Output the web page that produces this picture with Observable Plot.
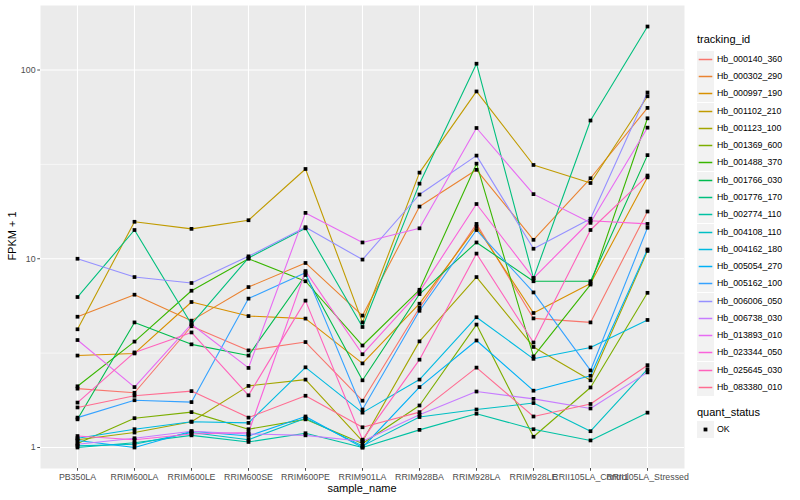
<!DOCTYPE html>
<html>
<head>
<meta charset="utf-8">
<script src="https://cdn.jsdelivr.net/npm/d3@7"></script>
<script src="https://cdn.jsdelivr.net/npm/@observablehq/plot@0.6"></script>
<style>
  body { margin: 0; background: white; font-family: "Liberation Sans", Arial, sans-serif; }
  #wrap { position: relative; width: 800px; height: 500px; }
  .t { position: absolute; white-space: nowrap; color: #000; }
  .key { position: absolute; width: 17px; height: 17px; }
  .lab { position: absolute; font-size: 8.8px; line-height: 17px; color: #000; white-space: nowrap; }
</style>
</head>
<body>
<div id="wrap"></div>
<script>
const samples = ["PB350LA","RRIM600LA","RRIM600LE","RRIM600SE","RRIM600PE","RRIM901LA","RRIM928BA","RRIM928LA","RRIM928LE","RRII105LA_Control","RRII105LA_Stressed"];

const trackingIds = ["Hb_000140_360","Hb_000302_290","Hb_000997_190","Hb_001102_210","Hb_001123_100","Hb_001369_600","Hb_001488_370","Hb_001766_030","Hb_001776_170","Hb_002774_110","Hb_004108_110","Hb_004162_180","Hb_005054_270","Hb_005162_100","Hb_006006_050","Hb_006738_030","Hb_013893_010","Hb_023344_050","Hb_025645_030","Hb_083380_010"];

const colors = ["#F8766D","#EA8331","#D89000","#C09B00","#A3A500","#7CAE00","#39B600","#00BB4E","#00BF7D","#00C1A3","#00BFC4","#00BAE0","#00B0F6","#35A2FF","#9590FF","#C77CFF","#E76BF3","#FA62DB","#FF62BC","#FF6C91"];

// FPKM + 1 per sample (same order as samples)
const hb000140_360 = [2.05, 1.95, 4.39, 3.27, 3.62, 1.77, 5.5, 15.3, 4.83, 4.6, 17.8];
const hb000302_290 = [4.93, 6.45, 4.7, 7.08, 9.5, 5.0, 18.9, 29.6, 12.6, 26.7, 63];
const hb000997_190 = [3.07, 3.15, 5.9, 4.97, 4.82, 2.79, 5.78, 14.8, 5.16, 7.4, 27];
const hb001102_210 = [4.23, 15.7, 14.4, 16.0, 29.9, 4.6, 28.6, 77, 31.4, 25.2, 72.6];
const hb001123_100 = [1.1, 1.2, 1.37, 2.12, 2.29, 1.08, 3.65, 8.0, 3.41, 2.27, 11.0];
const hb001369_600 = [1.05, 1.43, 1.54, 1.25, 1.41, 1.05, 1.67, 4.48, 1.14, 2.08, 6.6];
const hb001488_370 = [2.11, 3.64, 6.77, 10.0, 7.6, 3.47, 6.85, 31.9, 3.04, 7.3, 55.5];
const hb001766_030 = [1.41, 4.6, 3.52, 3.07, 8.2, 2.27, 6.5, 12.2, 7.6, 7.6, 35.4];
const hb001776_170 = [6.27, 14.2, 4.5, 10.1, 14.5, 4.35, 25, 108, 7.9, 54, 170];
const hb002774_110 = [1.0, 1.06, 1.16, 1.07, 1.19, 1.0, 1.24, 1.51, 1.25, 1.09, 1.53];
const hb004108_110 = [1.02, 1.04, 1.2, 1.1, 1.43, 1.02, 1.45, 1.59, 1.72, 1.22, 2.6];
const hb004162_180 = [1.12, 1.25, 1.37, 1.35, 2.66, 1.53, 2.29, 4.9, 2.95, 3.39, 4.74];
const hb005054_270 = [1.09, 1.0, 1.22, 1.15, 1.46, 1.0, 2.09, 3.69, 2.0, 2.4, 11.2];
const hb005162_100 = [1.44, 1.78, 1.74, 6.15, 8.44, 1.59, 5.3, 14.2, 6.63, 2.56, 14.6];
const hb006006_050 = [10.0, 8.0, 7.44, 10.3, 14.7, 9.9, 21.9, 35.2, 11.3, 16.3, 76];
const hb006738_030 = [1.04, 1.12, 1.22, 1.18, 1.16, 1.08, 1.49, 1.98, 1.81, 1.61, 2.5];
const hb013893_010 = [3.71, 2.09, 4.5, 2.64, 17.5, 12.2, 14.5, 49.3, 22, 15.5, 49.5];
const hb023344_050 = [1.15, 1.1, 1.18, 1.2, 8.6, 3.12, 6.7, 19.5, 7.9, 15.9, 15.3];
const hb025645_030 = [1.73, 3.19, 4.07, 1.89, 6.0, 1.1, 2.92, 10.65, 3.6, 14.2, 27.6];
const hb083380_010 = [1.63, 1.88, 1.99, 1.44, 1.88, 1.28, 1.54, 2.65, 1.46, 1.70, 2.73];

const seriesValues = [hb000140_360, hb000302_290, hb000997_190, hb001102_210, hb001123_100, hb001369_600, hb001488_370, hb001766_030, hb001776_170, hb002774_110, hb004108_110, hb004162_180, hb005054_270, hb005162_100, hb006006_050, hb006738_030, hb013893_010, hb023344_050, hb025645_030, hb083380_010];

const yTicks = [1, 10, 100];
const yMinor = [3.1623, 31.623];

const rows = trackingIds.flatMap((id, i) => seriesValues[i].map((v, j) => ({id, sample: samples[j], value: v, status: "OK"})));

const chart = Plot.plot({
  width: 800, height: 500,
  marginLeft: 40, marginRight: 116, marginTop: 5, marginBottom: 32,
  style: {fontFamily: "Liberation Sans, Arial, sans-serif", background: "white", overflow: "visible"},
  x: {type: "point", domain: samples, padding: 0.6, label: null},
  y: {type: "log", domain: [0.774, 219.7], label: null},
  color: {domain: trackingIds, range: colors},
  marks: [
    Plot.frame({fill: "#EBEBEB", stroke: null}),
    Plot.ruleY(yMinor, {stroke: "white", strokeWidth: 0.55}),
    Plot.ruleY(yTicks, {stroke: "white", strokeWidth: 1.1}),
    Plot.ruleX(samples, {stroke: "white", strokeWidth: 1.1}),
    Plot.line(rows, {x: "sample", y: "value", z: "id", stroke: "id", strokeWidth: 1.1}),
    Plot.dot(rows, {x: "sample", y: "value", symbol: "square", fill: "black", stroke: null, r: 2.1}),
    Plot.axisY({ticks: yTicks, tickFormat: d => String(d), tickSize: 2.75, tickPadding: 2.2, fontSize: 8.8, color: "#4D4D4D", label: null}),
    Plot.axisX({tickSize: 2.75, tickPadding: 2.2, fontSize: 8.8, color: "#4D4D4D", label: null})
  ]
});

const wrap = document.getElementById("wrap");
wrap.appendChild(chart);

function addText(txt, left, top, size, extra) {
  const d = document.createElement("div");
  d.className = "t";
  d.textContent = txt;
  d.style.left = left + "px";
  d.style.top = top + "px";
  d.style.fontSize = size + "px";
  if (extra) Object.assign(d.style, extra);
  wrap.appendChild(d);
  return d;
}

const svgNS = "http://www.w3.org/2000/svg";
function keyBox(top, drawFn) {
  const s = document.createElementNS(svgNS, "svg");
  s.setAttribute("width", "17");
  s.setAttribute("height", "17");
  s.setAttribute("class", "key");
  s.style.left = "697px";
  s.style.top = top + "px";
  const r = document.createElementNS(svgNS, "rect");
  r.setAttribute("width", "17"); r.setAttribute("height", "17");
  r.setAttribute("fill", "#F2F2F2");
  s.appendChild(r);
  drawFn(s);
  wrap.appendChild(s);
}

// axis titles
addText("sample_name", 362, 482, 11, {transform: "translateX(-50%)"});
addText("FPKM + 1", 12, 236, 11, {transform: "translate(-50%,-50%) rotate(-90deg)", transformOrigin: "center"});

// legend: tracking_id
addText("tracking_id", 697, 33, 11);
trackingIds.forEach((id, i) => {
  const top = Math.round(50.7 + i * 17.28);
  keyBox(top, s => {
    const l = document.createElementNS(svgNS, "line");
    l.setAttribute("x1", "1.7"); l.setAttribute("x2", "15.3");
    l.setAttribute("y1", "8.5"); l.setAttribute("y2", "8.5");
    l.setAttribute("stroke", colors[i]);
    l.setAttribute("stroke-width", "1.5");
    s.appendChild(l);
  });
  const l = document.createElement("div");
  l.className = "lab";
  l.textContent = id;
  l.style.left = "717px";
  l.style.top = top + "px";
  wrap.appendChild(l);
});

// legend: quant_status
addText("quant_status", 697, 406, 11);
{
  const top = 421;
  keyBox(top, s => {
    const q = document.createElementNS(svgNS, "rect");
    q.setAttribute("x", "6.6"); q.setAttribute("y", "6.6");
    q.setAttribute("width", "3.8"); q.setAttribute("height", "3.8");
    q.setAttribute("fill", "black");
    s.appendChild(q);
  });
  const l = document.createElement("div");
  l.className = "lab";
  l.textContent = "OK";
  l.style.left = "717px";
  l.style.top = top + "px";
  wrap.appendChild(l);
}
</script>
</body>
</html>
